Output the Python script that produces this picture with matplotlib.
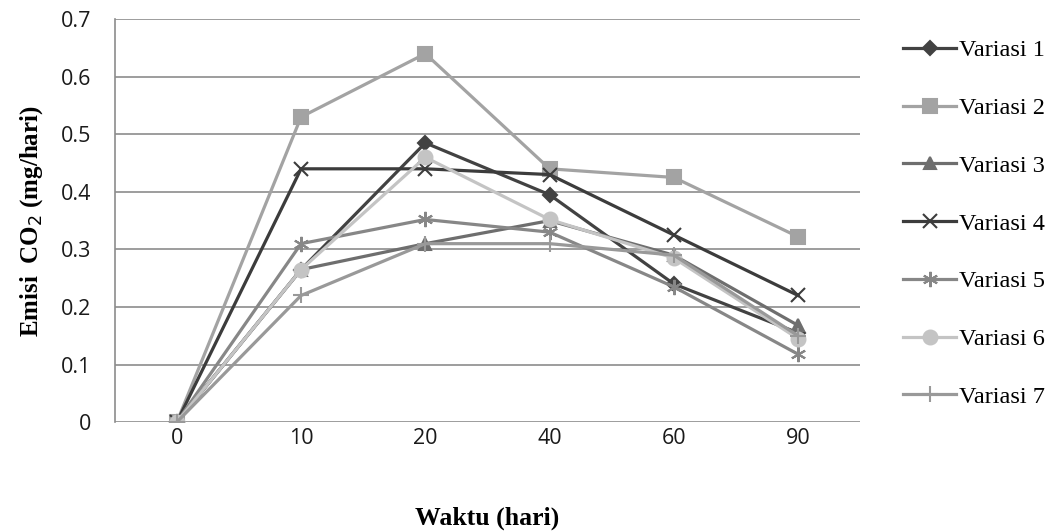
import matplotlib
matplotlib.use('Agg')
import matplotlib.pyplot as plt

# data
waktu = ['0', '10', '20', '40', '60', '90']
variasi_1 = [0, 0.265, 0.485, 0.395, 0.24, 0.155]
variasi_2 = [0, 0.53, 0.64, 0.44, 0.425, 0.322]
variasi_3 = [0, 0.265, 0.31, 0.35, 0.29, 0.168]
variasi_4 = [0, 0.44, 0.44, 0.43, 0.325, 0.22]
variasi_5 = [0, 0.31, 0.352, 0.33, 0.235, 0.118]
variasi_6 = [0, 0.265, 0.46, 0.352, 0.285, 0.145]
variasi_7 = [0, 0.22, 0.31, 0.31, 0.29, 0.15]
labels = ['Variasi 1', 'Variasi 2', 'Variasi 3', 'Variasi 4',
          'Variasi 5', 'Variasi 6', 'Variasi 7']

series = [variasi_1, variasi_2, variasi_3, variasi_4,
          variasi_5, variasi_6, variasi_7]
colors = ['#424242', '#a3a3a3', '#6e6e6e', '#3c3c3c', '#878787', '#c4c4c4', '#999999']
markers = ['D', 's', '^', 'x', (6, 2, 0), 'o', '+']
msizes = [7, 10, 8, 10, 11, 10, 11]

fig = plt.figure(figsize=(10.62, 5.31), dpi=100)
ax = fig.add_axes([0.108, 0.205, 0.702, 0.759])

x = list(range(len(waktu)))
for vals, lab, c, m, ms in zip(series, labels, colors, markers, msizes):
    ax.plot(x, vals, color=c, marker=m, markersize=ms, linewidth=2.3,
            markeredgewidth=1.5, label=lab)

ax.set_xlim(-0.5, 5.5)
ax.set_ylim(0, 0.7)
ax.set_xticks(x)
ax.set_xticklabels(waktu)
ax.set_yticks([0, 0.1, 0.2, 0.3, 0.4, 0.5, 0.6, 0.7])
ax.set_yticklabels(['0', '0.1', '0.2', '0.3', '0.4', '0.5', '0.6', '0.7'])
ax.grid(axis='y', color='#8c8c8c', linewidth=1.2)
ax.set_axisbelow(True)
for s in ['top', 'right', 'bottom']:
    ax.spines[s].set_visible(False)
ax.spines['left'].set_color('#8c8c8c')
ax.spines['left'].set_linewidth(1.2)
ax.tick_params(axis='both', length=0, labelsize=15.5)
ax.tick_params(axis='y', pad=17)
ax.tick_params(axis='x', pad=4)
for t in ax.get_xticklabels() + ax.get_yticklabels():
    t.set_family('Open Sans')
    t.set_color('#1a1a1a')

ax.set_xlabel('Waktu (hari)', family='Liberation Serif', fontweight='bold',
              fontsize=18.5, labelpad=41.5)
ax.set_ylabel('Emisi  CO$_2$ (mg/hari)', family='Liberation Serif',
              fontweight='bold', fontsize=18, labelpad=11)

leg = ax.legend(loc='upper left', bbox_to_anchor=(1.028, 1.004), frameon=False,
                prop={'family': 'Liberation Serif', 'size': 17.5},
                labelspacing=1.47, handlelength=2.2, handletextpad=0.1)

fig.savefig('out.png', dpi=100)
